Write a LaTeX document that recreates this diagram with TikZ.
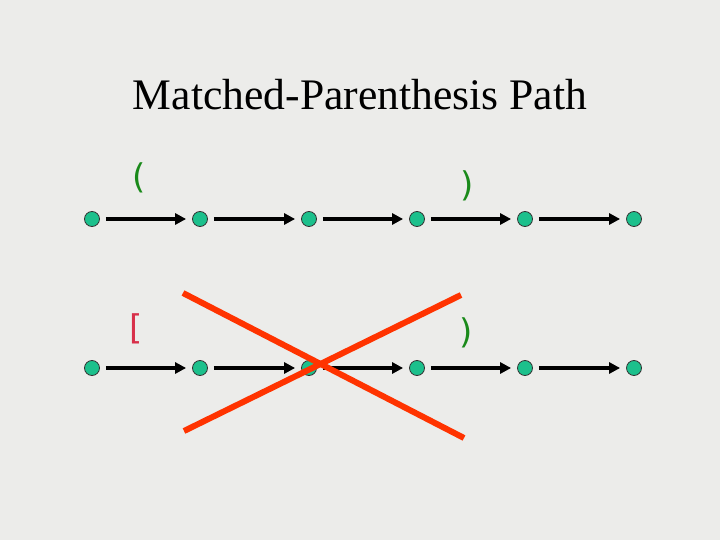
\documentclass[tikz,border=0pt]{standalone}
\usepackage{fontspec}
\setmainfont{Liberation Serif}
\newfontfamily\brk{DejaVu Sans}
\usetikzlibrary{arrows.meta}
\definecolor{bg}{HTML}{ECECEA}
\definecolor{dotc}{HTML}{1CC08C}
\definecolor{grn}{HTML}{1A8A1A}
\definecolor{rd}{HTML}{D8304A}
\definecolor{xred}{HTML}{FF3300}
\tikzset{
  dot/.style={circle,draw=black!80,line width=0.8pt,fill=dotc,minimum size=15pt,inner sep=0pt},
  arr/.style={line width=3.8pt,-{Triangle[length=11pt,width=11pt]},shorten <=6pt,shorten >=6pt},
  lab/.style={font=\brk\fontsize{34}{38}\selectfont,inner sep=0pt},
  cross/.style={line width=6pt,xred}
}
\begin{document}
\begin{tikzpicture}[x=1pt,y=-1pt]
\fill[bg] (0,0) rectangle (720,540);
\useasboundingbox (0,0) rectangle (720,540);
\node[font=\fontsize{43.6}{48}\selectfont] (title) at (360,95) {Matched-Parenthesis Path};
\foreach \i/\x in {1/92,2/200,3/309,4/417,5/525,6/634}{
  \node[dot] (a\i) at (\x,219) {};
  \node[dot] (b\i) at (\x,368) {};
}
\foreach \i/\j in {1/2,2/3,3/4,4/5,5/6}{
  \draw[arr] (a\i) -- (a\j);
  \draw[arr] (b\i) -- (b\j);
}
\node[lab,text=grn] (l1) at (139,178) {(};
\node[lab,text=grn] (l2) at (467,186) {)};
\node[lab,text=rd] (l3) at (136,329) {[};
\node[lab,text=grn] (l4) at (466,333) {)};
\coordinate (x1) at (183,293);
\coordinate (x2) at (464,438);
\coordinate (x3) at (184,431);
\coordinate (x4) at (461,295);
\draw[cross] (x1) -- (x2);
\draw[cross] (x3) -- (x4);
\end{tikzpicture}
\end{document}
